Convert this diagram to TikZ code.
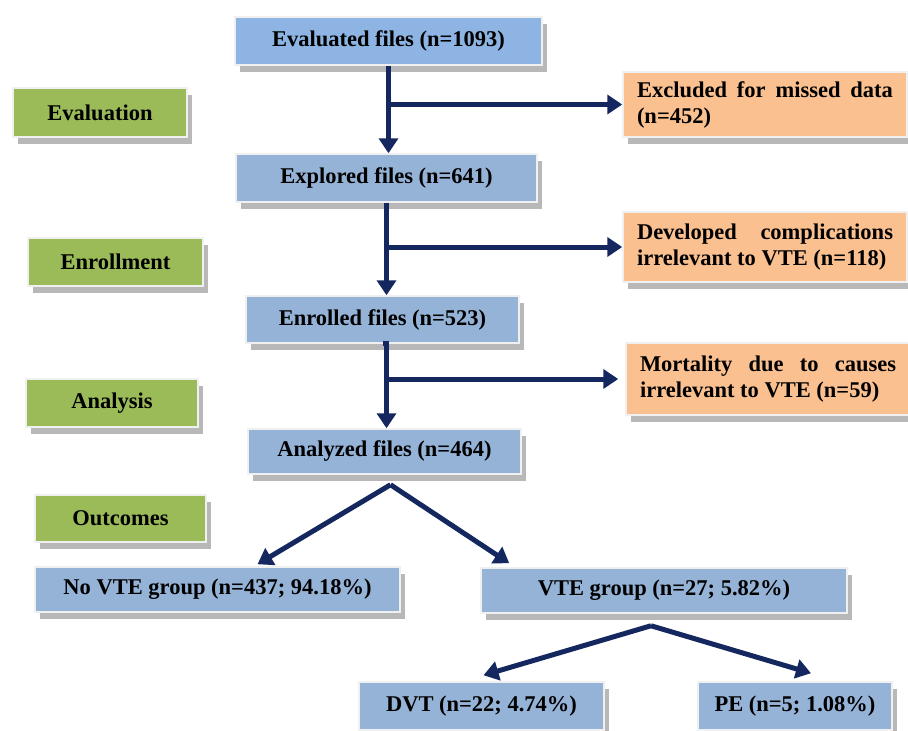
\documentclass[tikz,border=0pt]{standalone}
\usepackage{fontspec}
\setmainfont{Liberation Serif}
\usetikzlibrary{arrows.meta,shadows}
\definecolor{boxblue}{HTML}{95B3D7}
\definecolor{topblue}{HTML}{8DB4E2}
\definecolor{stagegreen}{HTML}{9BBB59}
\definecolor{lossorange}{HTML}{FAC090}
\definecolor{arrownavy}{HTML}{14285F}
\begin{document}
\begin{tikzpicture}[x=1pt,y=-1pt,
    every node/.style={font=\fontsize{22.5}{26}\selectfont\bfseries, inner sep=0pt},
    boxbase/.style={draw=black!6, line width=1.5pt,
      drop shadow={shadow xshift=5pt, shadow yshift=-7pt, fill=black!28, opacity=1}},
    filebox/.style={boxbase, fill=boxblue},
    stagebox/.style={boxbase, fill=stagegreen},
    lossbox/.style={boxbase, fill=lossorange, inner xsep=14pt, text width=256pt, align=justify,
      execute at begin node={\hyphenpenalty=10000\exhyphenpenalty=10000}},
    flow/.style={line width=5pt, draw=arrownavy, -{Triangle[width=19pt,length=15pt]}}]
    \useasboundingbox (0, 0) rectangle (908, 731) ;
    % main chain
    \node[filebox, fill=topblue, minimum width=307pt, minimum height=48pt] (eval) at (388.5, 41) {Evaluated files (n=1093)} ;
    \node[filebox, minimum width=301pt, minimum height=48pt] (explore) at (386.5, 178) {Explored files (n=641)} ;
    \node[filebox, minimum width=273pt, minimum height=47pt] (enrol) at (382.5, 319.5) {Enrolled files (n=523)} ;
    \node[filebox, minimum width=273pt, minimum height=45pt] (analyse) at (384.5, 451.5) {Analyzed files (n=464)} ;
    % stages
    \node[stagebox, minimum width=174pt, minimum height=49pt] (stEval) at (100, 112.5) {Evaluation} ;
    \node[stagebox, minimum width=175pt, minimum height=48pt] (stEnrol) at (115.5, 262) {Enrollment} ;
    \node[stagebox, minimum width=172pt, minimum height=48pt] (stAnalysis) at (112, 403) {Analysis} ;
    \node[stagebox, minimum width=171pt, minimum height=47pt] (stOutcome) at (120.5, 518.5) {Outcomes} ;
    % excluded
    \node[lossbox, minimum height=65pt] (missed) at (765, 104.5) {Excluded for missed data (n=452)} ;
    \node[lossbox, minimum height=70pt] (complic) at (765, 247) {Developed complications irrelevant to VTE (n=118)} ;
    \node[lossbox, minimum height=72pt] (mortal) at (768, 379) {Mortality due to causes irrelevant to VTE (n=59)} ;
    % outcomes
    \node[filebox, minimum width=365pt, minimum height=45pt] (novte) at (217.5, 589.5) {No VTE group (n=437; 94.18\%)} ;
    \node[filebox, minimum width=366pt, minimum height=45pt] (vte) at (664, 590.5) {VTE group (n=27; 5.82\%)} ;
    \node[filebox, minimum width=245pt, minimum height=48pt] (dvt) at (481.5, 706) {DVT (n=22; 4.74\%)} ;
    \node[filebox, minimum width=194pt, minimum height=48pt] (pe) at (795, 706) {PE (n=5; 1.08\%)} ;
    % arrows
    \draw[flow] (eval.south) -- (eval.south |- explore.north) ;
    \draw[flow] (explore.south) -- (explore.south |- enrol.north) ;
    \draw[flow] (enrol.south) -- (enrol.south -| explore.south) -- (explore.south |- analyse.north) ;
    \draw[flow] (eval.south |- missed.west) -- (missed.west) ;
    \draw[flow] (explore.south |- complic.west) -- (complic.west) ;
    \draw[flow] (explore.south |- mortal.west) -- ([xshift=-7pt]mortal.west) ;
    \draw[flow] ([xshift=6pt,yshift=-10pt]analyse.south) -- ([xshift=40pt,yshift=2pt]novte.north) ;
    \draw[flow] ([xshift=6pt,yshift=-10pt]analyse.south) -- ([xshift=29pt,yshift=4pt]vte.north west) ;
    \draw[flow] ([xshift=-13pt,yshift=-12pt]vte.south) -- ([xshift=2pt,yshift=6pt]dvt.north) ;
    \draw[flow] ([xshift=-13pt,yshift=-12pt]vte.south) -- ([xshift=16pt,yshift=8pt]pe.north) ;
  \end{tikzpicture}
\end{document}
